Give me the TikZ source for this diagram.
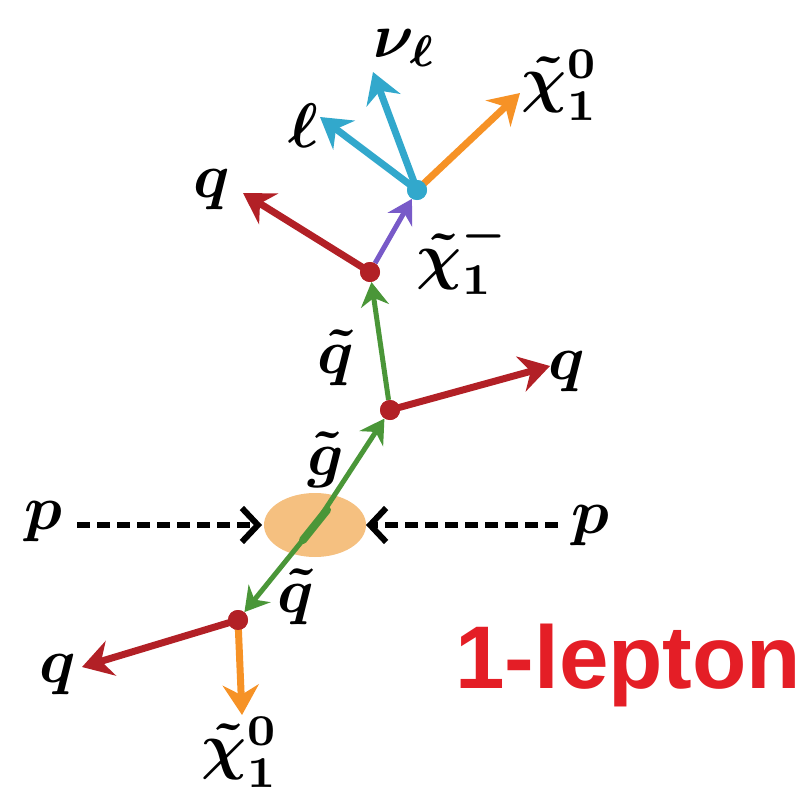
\documentclass[tikz,border=0pt]{standalone}
\usepackage{fontspec}
\newfontfamily\lepfont{Liberation Sans}
\usetikzlibrary{arrows.meta,shapes.geometric}
\definecolor{qred}{RGB}{178,32,38}
\definecolor{sgreen}{RGB}{74,150,56}
\definecolor{lcyan}{RGB}{50,168,204}
\definecolor{norange}{RGB}{246,146,38}
\definecolor{cpurple}{RGB}{120,90,200}
\definecolor{blob}{RGB}{245,192,128}
\definecolor{titred}{RGB}{228,30,38}
\tikzset{
  arr/.style={line width=7pt, -{Stealth[length=30pt,width=36pt,inset=10pt]}},
  thinarr/.style={line width=5pt, -{Stealth[length=24pt,width=28pt,inset=8pt]}},
  vtx/.style={circle, fill=qred, inner sep=0pt, minimum size=20pt},
  lbl/.style={font=\fontsize{10}{12}\selectfont\boldmath, inner sep=0pt, scale=6.3},
  dsh/.style={line width=6pt, dash pattern=on 13pt off 7pt, -{Straight Barb[length=16pt,width=34pt,line width=6pt]}},
}
\begin{document}
\begin{tikzpicture}[x=1pt,y=-1pt]
\useasboundingbox (0,0) rectangle (803,795);
% collision blob
\node[ellipse, fill=blob, minimum width=102pt, minimum height=64pt, inner sep=0pt] (col) at (315,525) {};
% vertices
\node[vtx] (v1) at (390,410) {};
\node[vtx] (v2) at (238,620) {};
\node[vtx] (v3) at (370,272) {};
\node[circle, fill=lcyan, inner sep=0pt, minimum size=20pt] (v4) at (417,190) {};
% arrow end points
\coordinate (eq1) at (550,366);
\coordinate (eq3) at (243,193);
\coordinate (eq2) at (82,667);
\coordinate (ech2) at (242,715);
\coordinate (el) at (320,117);
\coordinate (enu) at (373,72);
\coordinate (ech4) at (520,93);
% green lines
\draw[sgreen, line width=8pt, line cap=round] (col.center) ++(-12,15) -- ++(24,-30);
\draw[sgreen, thinarr] (col.center) -- (v1);
\draw[sgreen, thinarr] (col.center) -- (v2);
\draw[sgreen, thinarr] (v1) -- (v3);
% red quarks
\draw[qred, arr] (v1.center) -- (eq1);
\draw[qred, arr] (v3.center) -- (eq3);
\draw[qred, arr] (v2.center) -- (eq2);
% neutralinos
\draw[norange, arr] (v2.center) -- (ech2);
\draw[norange, arr] (v4.center) -- (ech4);
% chargino
\draw[cpurple, thinarr] (v3) -- (v4);
% leptons
\draw[lcyan, arr] (v4.center) -- (el);
\draw[lcyan, arr] (v4.center) -- (enu);
\node[circle, fill=lcyan, inner sep=0pt, minimum size=20pt] at (v4) {};
\node[vtx] at (v1) {};
\node[vtx] at (v2) {};
\node[vtx] at (v3) {};
% protons
\node[lbl] (pl) at (43,522) {$p$};
\node[lbl] (pr) at (590,526) {$p$};
\coordinate (al) at (262,525);
\coordinate (ar) at (366,525);
\draw[dsh] (pl.east) ++(14,3) coordinate (pls) -- (al);
\draw[dsh] (pr.west) ++(-12,-1) coordinate (prs) -- (ar);
% labels
\node[lbl] (lq1) at (567,372) {$q$};
\node[lbl] (lq3) at (212,190) {$q$};
\node[lbl] (lq2) at (58,675) {$q$};
\node[lbl] (lsq1) at (336,358) {$\tilde q$};
\node[lbl] (lgl) at (326,460) {$\tilde g$};
\node[lbl] (lsq2) at (296,597) {$\tilde q$};
\node[lbl] (lch2) at (240,752) {$\tilde\chi^0_1$};
\node[lbl] (lch4) at (560,85) {$\tilde\chi^0_1$};
\node[lbl] (lchm) at (463,256) {$\tilde\chi^-_1$};
\node[lbl] (lell) at (303,126) {$\ell$};
\node[lbl] (lnu) at (405,48) {$\nu_\ell$};
\node[font=\lepfont\bfseries\fontsize{89}{100}\selectfont, text=titred, inner sep=0pt, anchor=base west] (lep) at (455,688) {1-lepton};
\end{tikzpicture}
\end{document}
